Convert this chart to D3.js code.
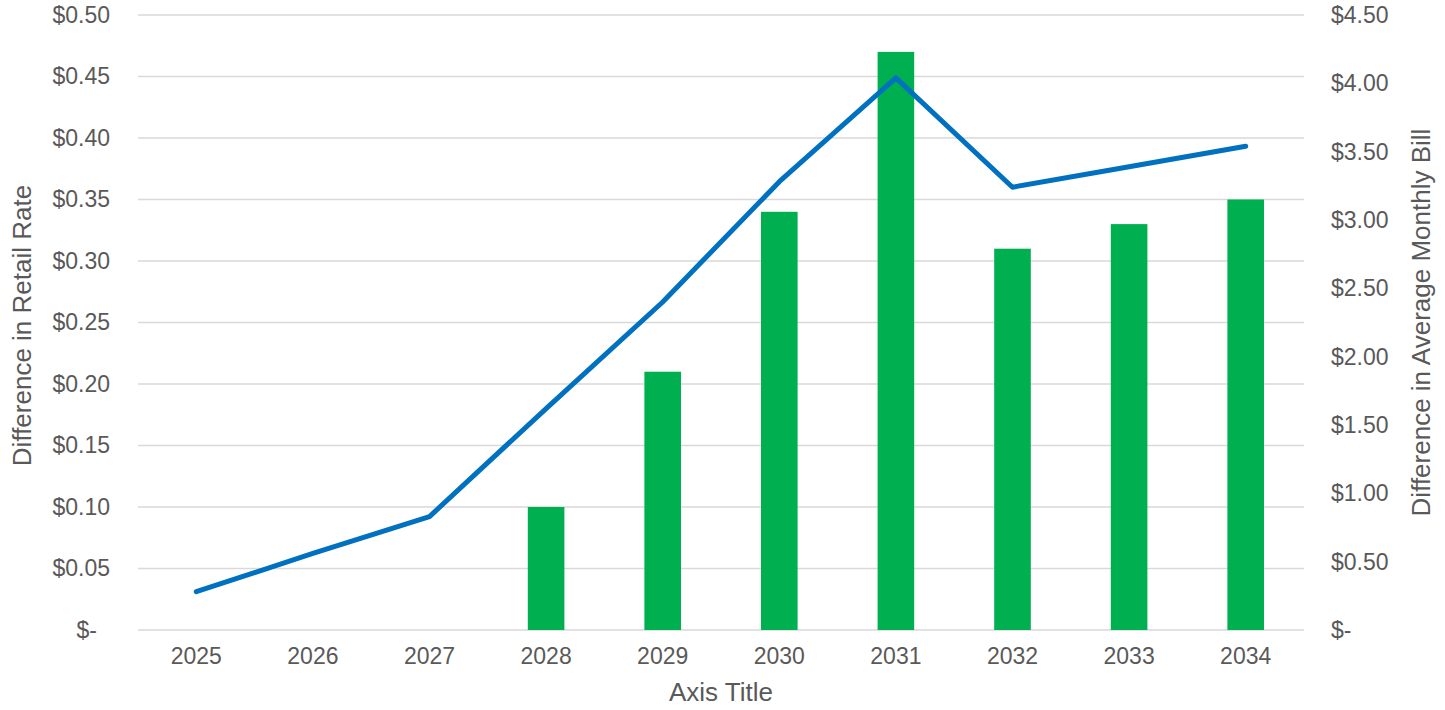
<!DOCTYPE html>
<html>
<head>
<meta charset="utf-8">
<script src="https://cdn.jsdelivr.net/npm/d3@7"></script>
<style>
  html, body { margin: 0; padding: 0; background: #ffffff; }
  svg { display: block; font-family: "Liberation Sans", Arial, sans-serif; }
</style>
</head>
<body>
<svg id="chart" width="1445" height="710"></svg>
<script>
// Years on the category axis
const years = ["2025", "2026", "2027", "2028", "2029", "2030", "2031", "2032", "2033", "2034"];
// Difference in retail rate ($, left axis) – bars
const retailRate = [0, 0, 0, 0.10, 0.21, 0.34, 0.47, 0.31, 0.33, 0.35];
// Difference in average monthly bill ($, right axis) – line
const monthlyBill = [0.28, 0.56, 0.83, 1.62, 2.40, 3.28, 4.04, 3.24, 3.39, 3.54];
// Tick values for both value axes
const leftTicks = [0, 0.05, 0.10, 0.15, 0.20, 0.25, 0.30, 0.35, 0.40, 0.45, 0.50];
const rightTicks = [0, 0.5, 1.0, 1.5, 2.0, 2.5, 3.0, 3.5, 4.0, 4.5];

const svg = d3.select("#chart");
const plot = { left: 138, right: 1304, top: 15, bottom: 630 };
const textColor = "#595959";
const gridColor = "#d9d9d9";

const x = d3.scaleBand().domain(years).range([plot.left, plot.right]).padding(0);
const yL = d3.scaleLinear().domain([0, 0.5]).range([plot.bottom, plot.top]);
const yR = d3.scaleLinear().domain([0, 4.5]).range([plot.bottom, plot.top]);

const money = v => v === 0 ? "$-" : "$" + v.toFixed(2);

// Horizontal gridlines from the left axis ticks
svg.append("g")
  .selectAll("line")
  .data(leftTicks)
  .join("line")
  .attr("x1", plot.left).attr("x2", plot.right)
  .attr("y1", d => yL(d)).attr("y2", d => yL(d))
  .attr("stroke", gridColor).attr("stroke-width", 1.5);

// Left axis
const leftAxis = svg.append("g")
  .attr("transform", `translate(${plot.left},0)`)
  .call(d3.axisLeft(yL).tickValues(leftTicks).tickFormat(money).tickSize(0).tickPadding(28));
leftAxis.select(".domain").remove();
leftAxis.selectAll("text")
  .attr("fill", textColor).attr("font-size", 23)
  .attr("dx", d => d === 0 ? -13 : 0);

// Right axis
const rightAxis = svg.append("g")
  .attr("transform", `translate(${plot.right},0)`)
  .call(d3.axisRight(yR).tickValues(rightTicks).tickFormat(money).tickSize(0).tickPadding(27));
rightAxis.select(".domain").remove();
rightAxis.selectAll("text").attr("fill", textColor).attr("font-size", 23);

// Category axis
const xAxis = svg.append("g")
  .attr("transform", `translate(0,${plot.bottom})`)
  .call(d3.axisBottom(x).tickSize(0).tickPadding(18));
xAxis.select(".domain").remove();
xAxis.selectAll("text").attr("fill", textColor).attr("font-size", 23);

// Bars: retail rate difference
const barW = x.bandwidth() * 0.314;
svg.append("g")
  .selectAll("rect")
  .data(years.map((y, i) => ({ year: y, v: retailRate[i] })).filter(d => d.v > 0))
  .join("rect")
  .attr("x", d => x(d.year) + x.bandwidth() / 2 - barW / 2)
  .attr("width", barW)
  .attr("y", d => yL(d.v))
  .attr("height", d => yL(0) - yL(d.v))
  .attr("fill", "#00b050");

// Line: monthly bill difference
const line = d3.line()
  .x((d, i) => x(years[i]) + x.bandwidth() / 2)
  .y(d => yR(d));
svg.append("path")
  .datum(monthlyBill)
  .attr("d", line)
  .attr("fill", "none")
  .attr("stroke", "#0070c0")
  .attr("stroke-width", 5)
  .attr("stroke-linecap", "round")
  .attr("stroke-linejoin", "round");

// Axis titles
svg.append("text")
  .attr("x", (plot.left + plot.right) / 2).attr("y", 701)
  .attr("text-anchor", "middle")
  .attr("fill", textColor).attr("font-size", 26)
  .text("Axis Title");

svg.append("text")
  .attr("transform", `translate(31,${(plot.top + plot.bottom) / 2 + 3}) rotate(-90)`)
  .attr("text-anchor", "middle")
  .attr("fill", textColor).attr("font-size", 26)
  .text("Difference in Retail Rate");

svg.append("text")
  .attr("transform", `translate(1430,${(plot.top + plot.bottom) / 2}) rotate(-90)`)
  .attr("text-anchor", "middle")
  .attr("fill", textColor).attr("font-size", 26)
  .text("Difference in Average Monthly Bill");
</script>
</body>
</html>
